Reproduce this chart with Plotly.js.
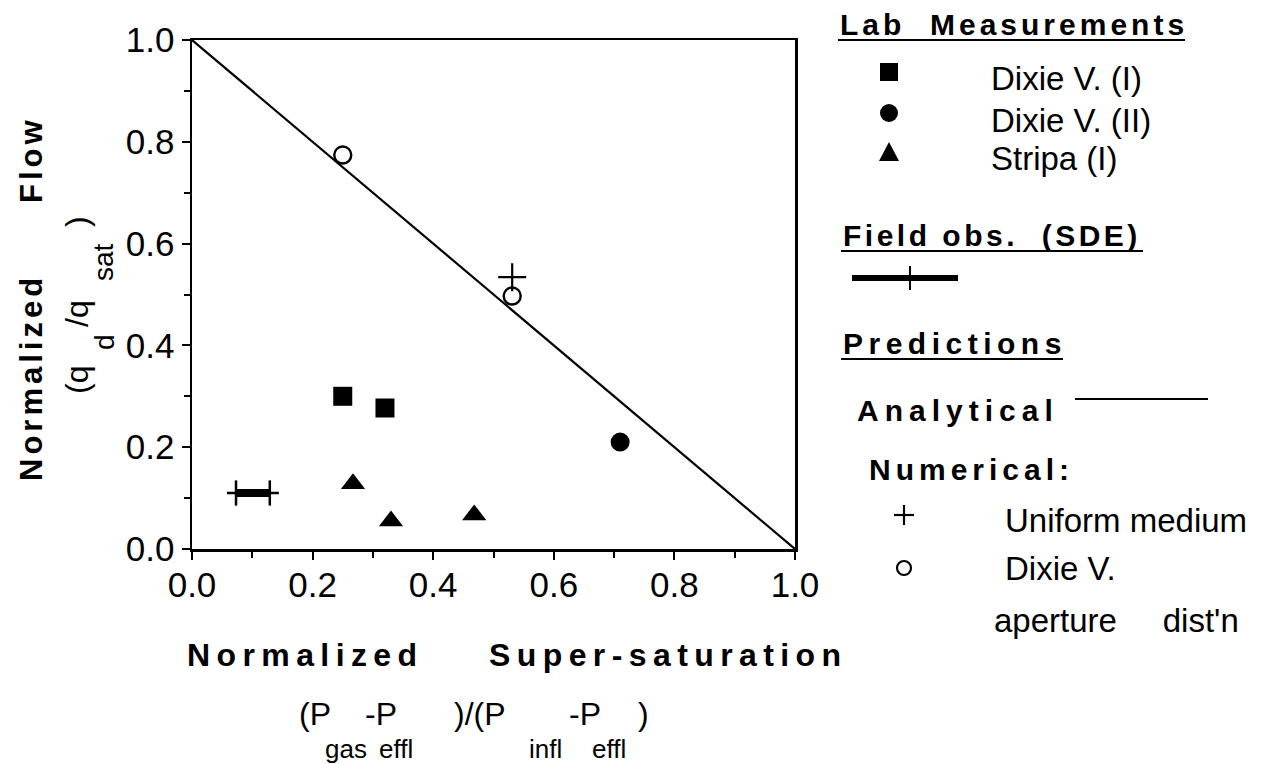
<!DOCTYPE html>
<html>
<head>
<meta charset="utf-8">
<script src="https://cdn.plot.ly/plotly-3.0.1.min.js"></script>
<style>
html,body{margin:0;padding:0;background:#fff;}
#chart{width:1265px;height:764px;}
</style>
</head>
<body>
<div id="chart"></div>
<script>
// ---------------- data ----------------
const xTickVals = [0, 0.2, 0.4, 0.6, 0.8, 1.0];
const xTickText = ["0.0", "0.2", "0.4", "0.6", "0.8", "1.0"];
const yTickVals = [0, 0.2, 0.4, 0.6, 0.8, 1.0];
const yTickText = ["0.0", "0.2", "0.4", "0.6", "0.8", "1.0"];

// Analytical prediction
const analyticalX = [0, 1];
const analyticalY = [1, 0];

// Lab measurements
const dixieIX = [0.25, 0.32];
const dixieIY = [0.30, 0.277];
const dixieIIX = [0.71];
const dixieIIY = [0.21];
const stripaX = [0.267, 0.330, 0.468];
const stripaY = [0.128, 0.055, 0.067];

// Numerical predictions
const uniformX = [0.531];
const uniformY = [0.534];
const apertureX = [0.250, 0.531];
const apertureY = [0.774, 0.497];

// Field observation (SDE): range with inner bar
const sdeOuterX = [0.058, 0.144];
const sdeInnerX = [0.073, 0.129];
const sdeY = 0.11;

// ---------------- layout helpers ----------------
const W = 1265, H = 764;
const L = 192, R = 795, T = 40, B = 549;
const px = x => x / W;
const py = y => 1 - y / H;
const FONT = "Liberation Sans, Arial, Helvetica, sans-serif";

const traces = [
  {x: analyticalX, y: analyticalY, mode: "lines", line: {color: "#000", width: 2.2}, hoverinfo: "skip"},
  {x: sdeOuterX, y: sdeOuterX.map(() => sdeY), mode: "lines", line: {color: "#000", width: 2.5}},
  {x: sdeInnerX, y: sdeInnerX.map(() => sdeY), mode: "lines+markers", line: {color: "#000", width: 8},
   marker: {symbol: "line-ns-open", size: 18, line: {color: "#000", width: 2.5}}},
  {x: dixieIX, y: dixieIY, mode: "markers", marker: {symbol: "square", size: 19, color: "#000"}},
  {x: dixieIIX, y: dixieIIY, mode: "markers", marker: {symbol: "circle", size: 19, color: "#000"}},
  {x: stripaX, y: stripaY, mode: "markers", marker: {symbol: "triangle-up", size: 21, color: "#000"}},
  {x: apertureX, y: apertureY, mode: "markers", marker: {symbol: "circle-open", size: 17, color: "#000", line: {width: 2.4, color: "#000"}}},
  {x: uniformX, y: uniformY, mode: "markers", marker: {symbol: "cross-thin-open", size: 20, color: "#000", line: {width: 2.2, color: "#000"}}}
];

function ann(text, x, y, opts) {
  return Object.assign({
    text: text, xref: "paper", yref: "paper", x: px(x), y: py(y),
    showarrow: false, xanchor: "left", yanchor: "middle",
    font: {family: FONT, size: 33, color: "#000"}
  }, opts || {});
}
function bold(text, spacing) {
  return '<b><span style="letter-spacing:' + spacing + 'px">' + text + '</span></b>';
}
const NB = "\u00A0";
const sp = n => NB.repeat(n);
const fnt = s => ({family: FONT, size: s, color: "#000"});

const annotations = [
  // y axis title
  ann(bold("Normalized", 4), 31, 378, {xanchor: "center", textangle: -90, font: fnt(31)}),
  ann(bold("Flow", 4), 31, 160, {xanchor: "center", textangle: -90, font: fnt(31)}),
  ann("(q", 77, 380, {xanchor: "center", textangle: -90, font: fnt(32)}),
  ann("/q", 77, 314, {xanchor: "center", textangle: -90, font: fnt(32)}),
  ann(")", 77, 222, {xanchor: "center", textangle: -90, font: fnt(32)}),
  ann("d", 104, 342, {xanchor: "center", textangle: -90, font: fnt(28)}),
  ann("sat", 104, 262, {xanchor: "center", textangle: -90, font: fnt(28)}),
  // x axis title
  ann(bold("Normalized", 6.4), 185, 655, {font: fnt(32)}),
  ann(bold("Super-saturation", 6.4), 487, 655, {font: fnt(32)}),
  ann("(P", 297, 714, {font: fnt(32)}),
  ann("-P", 363, 714, {font: fnt(32)}),
  ann(")/(P", 452, 714, {font: fnt(32)}),
  ann("-P", 567, 714, {font: fnt(32)}),
  ann(")", 636, 714, {font: fnt(32)}),
  ann("gas", 323, 749, {font: fnt(26)}),
  ann("effl", 377, 749, {font: fnt(26)}),
  ann("infl", 527, 749, {font: fnt(26)}),
  ann("effl", 590, 749, {font: fnt(26)}),
  // legend
  ann(bold("Lab" + sp(2) + "Measurements", 4), 838, 25, {font: fnt(30)}),
  ann("Dixie V. (I)", 989, 79),
  ann("Dixie V. (II)", 989, 120),
  ann("Stripa (I)", 989, 158),
  ann(bold("Field" + sp(1) + "obs." + sp(2) + "(SDE)", 3.5), 841, 235, {font: fnt(30)}),
  ann(bold("Predictions", 5.5), 841, 343, {font: fnt(30)}),
  ann(bold("Analytical", 6), 855, 410, {font: fnt(30)}),
  ann(bold("Numerical:", 5), 867, 469, {font: fnt(30)}),
  ann("Uniform medium", 1003, 520),
  ann("Dixie V.", 1003, 568),
  ann("aperture" + sp(5) + "dist'n", 992, 620)
];

function line(x0, y0, x1, y1, w) {
  return {type: "line", xref: "paper", yref: "paper", x0: px(x0), y0: py(y0), x1: px(x1), y1: py(y1),
          line: {color: "#000", width: w}};
}
const shapes = [
  // underlines
  line(838, 40, 1185, 40, 2.2),
  line(841, 251, 1143, 251, 2.2),
  line(841, 359, 1063, 359, 2.2),
  // legend symbols
  {type: "rect", xref: "paper", yref: "paper", x0: px(880), x1: px(898), y0: py(63), y1: py(81), fillcolor: "#000", line: {width: 0}},
  {type: "circle", xref: "paper", yref: "paper", x0: px(880), x1: px(898), y0: py(104), y1: py(122), fillcolor: "#000", line: {width: 0}},
  {type: "path", xref: "paper", yref: "paper",
   path: "M " + px(879) + " " + py(161) + " L " + px(899) + " " + py(161) + " L " + px(889) + " " + py(142) + " Z",
   fillcolor: "#000", line: {width: 0}},
  line(852, 278, 958, 278, 6),
  line(910, 266, 910, 290, 2),
  line(1075, 399, 1208, 399, 2.2),
  line(894, 515, 914, 515, 2.2),
  line(904, 505, 904, 525, 2.2),
  {type: "circle", xref: "paper", yref: "paper", x0: px(897), x1: px(911), y0: py(561), y1: py(575), line: {color: "#000", width: 2.2}}
];

const axisCommon = {
  range: [0, 1], showgrid: false, zeroline: false, showline: true, mirror: true,
  linecolor: "#000", linewidth: 2.5, ticks: "outside", ticklen: 8, tickwidth: 2, tickcolor: "#000",
  tickfont: {family: FONT, size: 35, color: "#000"},
  minor: {dtick: 0.1, ticks: "outside", ticklen: 6, tickwidth: 2, tickcolor: "#000", showgrid: false},
  fixedrange: true
};

const layout = {
  width: W, height: H,
  margin: {l: 0, r: 0, t: 0, b: 0, pad: 0},
  paper_bgcolor: "#fff", plot_bgcolor: "#fff",
  showlegend: false,
  xaxis: Object.assign({}, axisCommon, {domain: [L / W, R / W], tickvals: xTickVals, ticktext: xTickText, ticklabelstandoff: -5}),
  yaxis: Object.assign({}, axisCommon, {domain: [1 - B / H, 1 - T / H], tickvals: yTickVals, ticktext: yTickText}),
  annotations: annotations,
  shapes: shapes
};

Plotly.newPlot("chart", traces, layout, {displayModeBar: false, staticPlot: true});
</script>
</body>
</html>
